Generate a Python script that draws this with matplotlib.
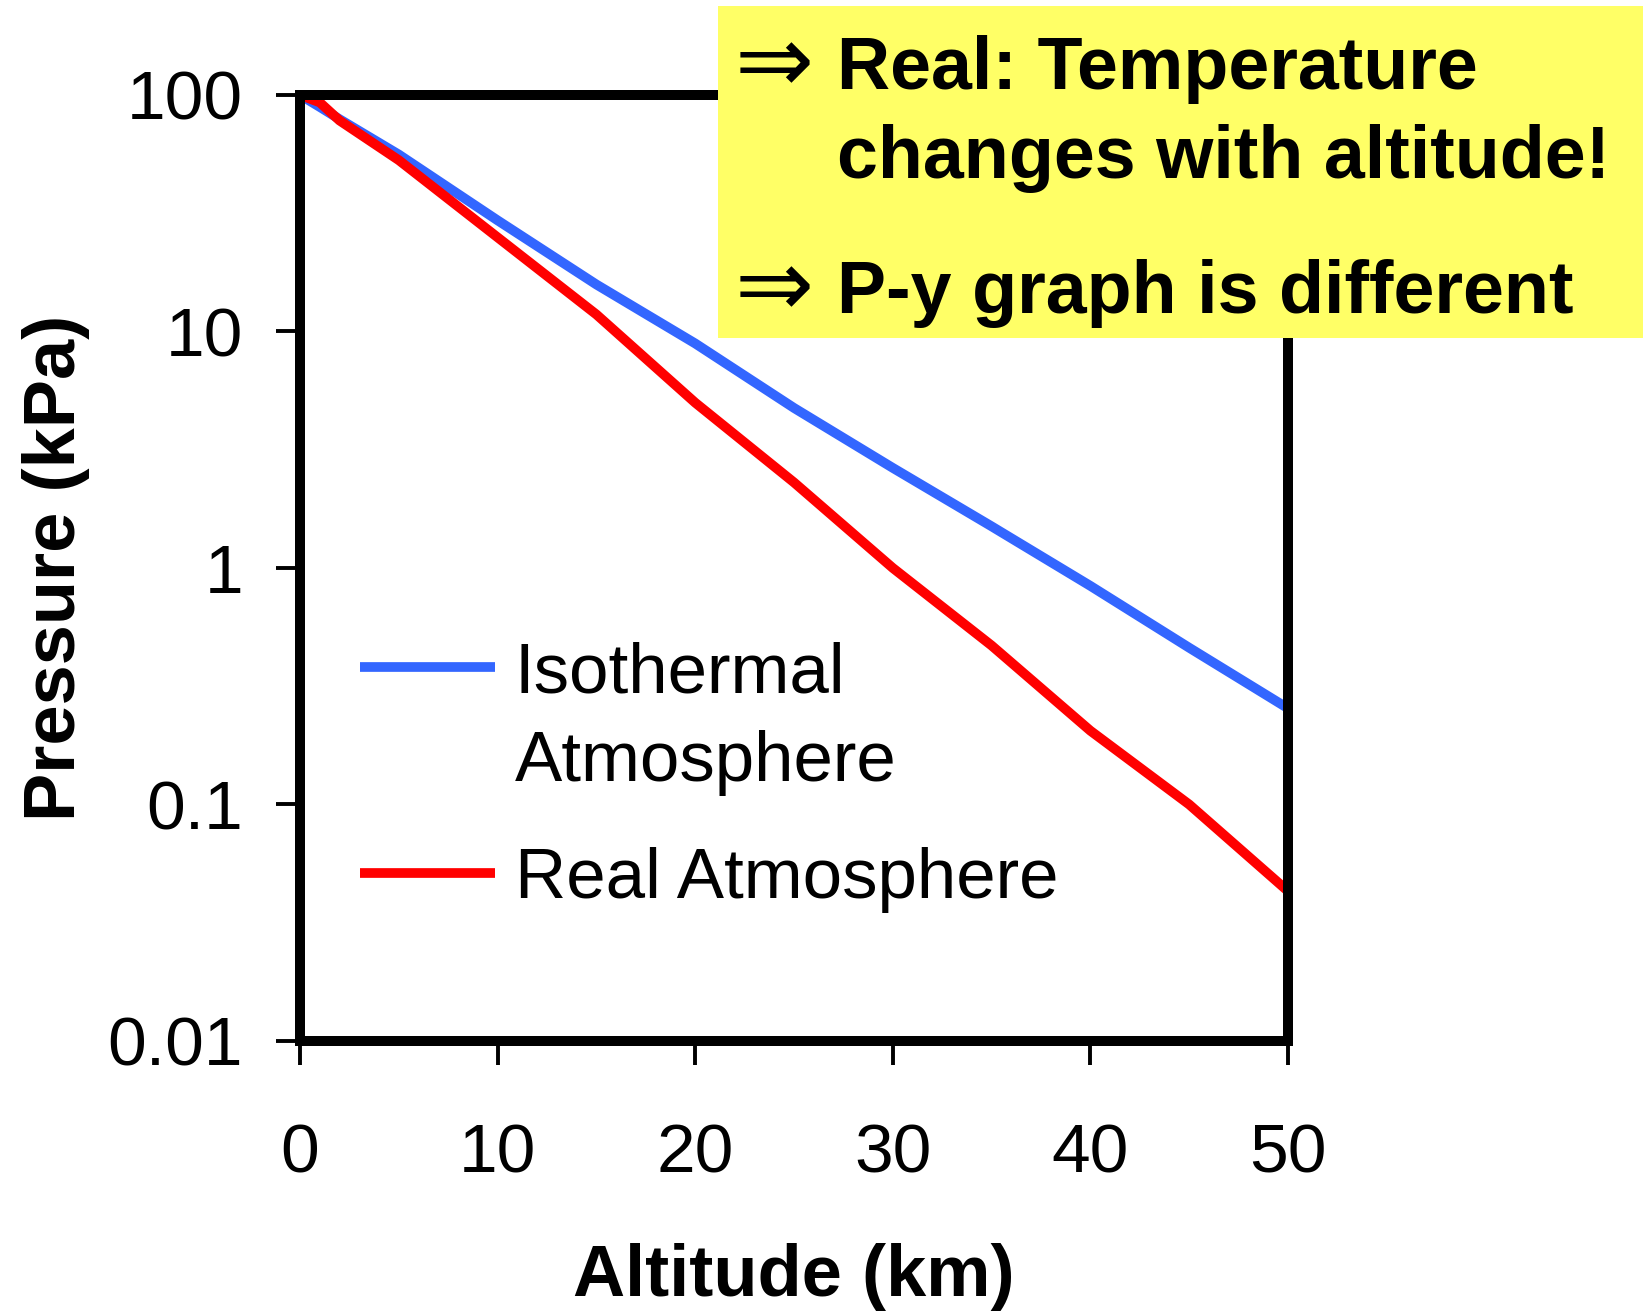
import numpy as np
import matplotlib
matplotlib.use("Agg")
import matplotlib.pyplot as plt
from matplotlib.patches import Rectangle
from matplotlib.legend_handler import HandlerLine2D
from matplotlib.ticker import NullLocator

plt.rcParams['font.family'] = ['Liberation Sans', 'DejaVu Sans']

# values (altitude in km, pressure in kPa)
altitude = [0, 1, 2, 5, 10, 15, 20, 25, 30, 35, 40, 45, 50]
isothermal = [100, 89, 79, 56, 29.5, 15.8, 8.9, 4.75, 2.65, 1.5, 0.84, 0.46, 0.255]
real = [100, 93, 78, 53, 25, 11.8, 5.0, 2.3, 1.0, 0.47, 0.205, 0.10, 0.043]

x_ticks = [0, 10, 20, 30, 40, 50]
y_ticks = [0.01, 0.1, 1, 10, 100]
y_tick_labels = ['0.01', '0.1', '1', '10', '100']

blue = '#3366FF'
red = '#FF0000'


class UpperLine(HandlerLine2D):
    # put the legend line level with the first line of a two-line label
    def __init__(self, shift, **kw):
        super().__init__(**kw)
        self.shift = shift

    def create_artists(self, legend, orig_handle, xdescent, ydescent,
                       width, height, fontsize, trans):
        arts = super().create_artists(legend, orig_handle, xdescent, ydescent,
                                      width, height, fontsize, trans)
        for a in arts:
            a.set_ydata(np.asarray(a.get_ydata()) + self.shift * fontsize)
        return arts


fig = plt.figure(figsize=(16.43, 13.12), dpi=100)
ax = fig.add_axes([0.1826, 0.2066, 0.6013, 0.7210])

iso_line, = ax.plot(altitude, isothermal, color=blue, lw=7,
                    solid_capstyle='butt', label='Isothermal\nAtmosphere')
real_line, = ax.plot(altitude, real, color=red, lw=7,
                     solid_capstyle='butt', label='Real Atmosphere')

ax.set_yscale('log')
ax.set_xlim(0, 50)
ax.set_ylim(0.01, 100)
ax.set_xticks(x_ticks)
ax.set_xticklabels([str(t) for t in x_ticks])
ax.set_yticks(y_ticks)
ax.set_yticklabels(y_tick_labels)
ax.yaxis.set_minor_locator(NullLocator())
ax.xaxis.set_minor_locator(NullLocator())

ax.tick_params(axis='both', direction='out', length=17, width=2.8,
               labelsize=50, color='black')
ax.tick_params(axis='x', pad=42)
ax.tick_params(axis='y', pad=24)

for s in ax.spines.values():
    s.set_linewidth(7.2)
    s.set_color('black')
    s.set_capstyle('projecting')

ax.set_xlabel('Altitude (km)', fontsize=52, fontweight='bold')
ax.xaxis.set_label_coords(0.5, -0.214)
ax.set_ylabel('Pressure (kPa)', fontsize=52, fontweight='bold')
ax.yaxis.set_label_coords(-0.213, 0.5)

leg = ax.legend(handles=[iso_line, real_line], loc='upper left',
                bbox_to_anchor=(0.061, 0.422), frameon=False,
                fontsize=51, borderpad=0, borderaxespad=0,
                handlelength=1.9, handletextpad=0.28, labelspacing=0.72,
                handler_map={iso_line: UpperLine(0.74)})
for t in leg.get_texts():
    t.set_linespacing(1.44)

# yellow note box
fig.add_artist(Rectangle((0.437, 0.7424), 0.563, 0.253,
                         transform=fig.transFigure, facecolor='#FFFF66',
                         edgecolor='none', zorder=5))
note_kw = dict(fontsize=53, fontweight='bold', va='baseline', zorder=6)
arrow_kw = dict(fontsize=68, family='DejaVu Sans', fontweight='normal',
                va='baseline', zorder=6)
fig.text(0.4470, 0.9300, '\u21d2', **arrow_kw)
fig.text(0.5094, 0.9322, 'Real: Temperature', **note_kw)
fig.text(0.5094, 0.8643, 'changes with altitude!', **note_kw)
fig.text(0.4470, 0.7592, '\u21d2', **arrow_kw)
fig.text(0.5094, 0.7614, 'P-y graph is different', **note_kw)

fig.savefig('out.png', dpi=100)
